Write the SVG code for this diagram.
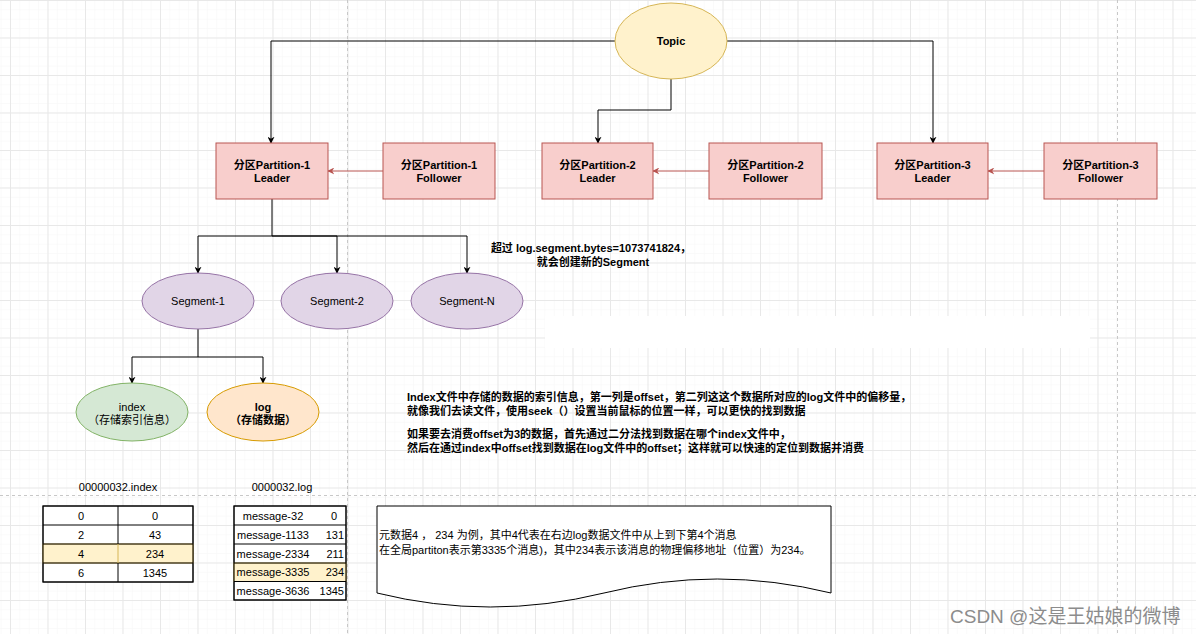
<svg xmlns="http://www.w3.org/2000/svg" width="1196" height="634" viewBox="0 0 1196 634">
<defs>
<pattern id="minor" x="10" y="0" width="9.375" height="9.375" patternUnits="userSpaceOnUse">
<path d="M0,0 H9.375 M0,0 V9.375" stroke="#f6f6f6" stroke-width="1" fill="none"/>
</pattern>
<pattern id="major" x="10" y="0" width="37.5" height="37.5" patternUnits="userSpaceOnUse">
<path d="M0,0.5 H37.5 M0.5,0 V37.5" stroke="#e8e8e8" stroke-width="1" fill="none"/>
</pattern>
<marker id="ab" viewBox="0 0 10 10" refX="9" refY="5" markerWidth="7" markerHeight="7" markerUnits="userSpaceOnUse" orient="auto">
<path d="M0,0 L10,5 L0,10 L3,5 z" fill="#000"/>
</marker>
<marker id="ar" viewBox="0 0 10 10" refX="9" refY="5" markerWidth="7" markerHeight="7" markerUnits="userSpaceOnUse" orient="auto">
<path d="M0,0 L10,5 L0,10 L3,5 z" fill="#b85450"/>
</marker>
</defs>
<style>
text{font-family:"Liberation Sans","Noto Sans CJK SC",sans-serif;font-size:11px;fill:#000}
.b{font-weight:bold}
.c{text-anchor:middle}
.e{text-anchor:end}
.red{fill:#f8cecc;stroke:#b85450;stroke-width:1}
.pur{fill:#e1d5e7;stroke:#9673a6;stroke-width:1}
.conn path{fill:none;stroke:#000;stroke-width:1;marker-end:url(#ab)}
.conn path.r{stroke:#b85450;marker-end:url(#ar)}
.tb{fill:#fff;stroke:#000;stroke-width:1}
.hl{fill:#fff2cc;stroke:#d6b656;stroke-width:1}
.pg{stroke:#c8c8c8;stroke-width:1;stroke-dasharray:3 3;fill:none}
</style>
<rect width="1196" height="634" fill="#fff"/>
<rect width="1196" height="634" fill="url(#minor)"/>
<rect width="1196" height="634" fill="url(#major)"/>
<rect x="545" y="316" width="545" height="32" fill="#fff"/>
<path class="pg" d="M347.5,0 V634 M1117.5,0 V634 M0,495.5 H1196"/>

<g id="connectors" class="conn">
<path d="M615,41 H271 V143"/>
<path d="M727,41 H933 V143"/>
<path d="M671,79 V110 H598 V143"/>
<path class="r" d="M383,171 H328"/>
<path class="r" d="M709,171 H653"/>
<path class="r" d="M1044,171 H988"/>
<path d="M272,199 V236 H198 V273"/>
<path d="M272,236 H337 V273"/>
<path d="M272,236 H467 V273"/>
<path d="M198,329 V357 H132 V383"/>
<path d="M198,357 H263 V383"/>
</g>

<g id="topic">
<ellipse cx="671" cy="41" rx="56" ry="38" fill="#fff2cc" stroke="#d6b656"/>
<text class="b c" x="671" y="45">Topic</text>
</g>
<g id="p1-leader">
<rect class="red" x="216" y="143" width="112" height="56"/>
<text class="b c" x="272" y="169">分区Partition-1</text>
<text class="b c" x="272" y="182">Leader</text>
</g>
<g id="p1-follower">
<rect class="red" x="383" y="143" width="112" height="56"/>
<text class="b c" x="439" y="169">分区Partition-1</text>
<text class="b c" x="439" y="182">Follower</text>
</g>
<g id="p2-leader">
<rect class="red" x="542" y="143" width="111" height="56"/>
<text class="b c" x="597.5" y="169">分区Partition-2</text>
<text class="b c" x="597.5" y="182">Leader</text>
</g>
<g id="p2-follower">
<rect class="red" x="709" y="143" width="113" height="56"/>
<text class="b c" x="765.5" y="169">分区Partition-2</text>
<text class="b c" x="765.5" y="182">Follower</text>
</g>
<g id="p3-leader">
<rect class="red" x="877" y="143" width="111" height="56"/>
<text class="b c" x="932.5" y="169">分区Partition-3</text>
<text class="b c" x="932.5" y="182">Leader</text>
</g>
<g id="p3-follower">
<rect class="red" x="1044" y="143" width="113" height="56"/>
<text class="b c" x="1100.5" y="169">分区Partition-3</text>
<text class="b c" x="1100.5" y="182">Follower</text>
</g>

<g id="segment-note">
<text class="b c" x="591" y="252">超过 log.segment.bytes=1073741824，</text>
<text class="b c" x="593" y="266">就会创建新的Segment</text>
</g>

<g id="segment-1">
<ellipse class="pur" cx="198" cy="301" rx="56" ry="28"/>
<text class="c" x="198" y="305">Segment-1</text>
</g>
<g id="segment-2">
<ellipse class="pur" cx="337" cy="301" rx="56" ry="28"/>
<text class="c" x="337" y="305">Segment-2</text>
</g>
<g id="segment-n">
<ellipse class="pur" cx="467" cy="301" rx="56" ry="28"/>
<text class="c" x="467" y="305">Segment-N</text>
</g>

<g id="index">
<ellipse cx="132" cy="412" rx="56" ry="29" fill="#d5e8d4" stroke="#82b366"/>
<text class="c" x="132" y="411">index</text>
<text class="c" x="132" y="424">（存储索引信息）</text>
</g>
<g id="log">
<ellipse cx="263" cy="412" rx="56" ry="29" fill="#ffe6cc" stroke="#d79b00"/>
<text class="b c" x="263" y="411">log</text>
<text class="b c" x="263" y="424">（存储数据）</text>
</g>

<g id="explain">
<text class="b" x="407" y="401">Index文件中存储的数据的索引信息，第一列是offset，第二列这这个数据所对应的log文件中的偏移量，</text>
<text class="b" x="407" y="415">就像我们去读文件，使用seek（）设置当前鼠标的位置一样，可以更快的找到数据</text>
<text class="b" x="407" y="438">如果要去消费offset为3的数据，首先通过二分法找到数据在哪个index文件中，</text>
<text class="b" x="407" y="452">然后在通过index中offset找到数据在log文件中的offset；这样就可以快速的定位到数据并消费</text>
</g>

<g id="index-table">
<text class="c" x="118" y="491">00000032.index</text>
<rect class="tb" x="43" y="506" width="150" height="76"/>
<rect class="hl" x="43" y="544" width="150" height="19"/>
<path d="M43,525 H193 M43,544 H193 M43,563 H193 M118,506 V544 M118,563 V582" stroke="#000" fill="none"/>
<path d="M118,544 V563" stroke="#d6b656" fill="none"/>
<rect x="43" y="506" width="150" height="76" fill="none" stroke="#000"/>
<text class="c" x="81" y="519.5">0</text><text class="c" x="155" y="519.5">0</text>
<text class="c" x="81" y="538.5">2</text><text class="c" x="155" y="538.5">43</text>
<text class="c" x="81" y="557.5">4</text><text class="c" x="155" y="557.5">234</text>
<text class="c" x="81" y="576.5">6</text><text class="c" x="155" y="576.5">1345</text>
</g>

<g id="log-table">
<text class="c" x="282" y="491">0000032.log</text>
<rect class="tb" x="234" y="506" width="112" height="94"/>
<rect class="hl" x="234" y="563" width="112" height="18.5"/>
<path d="M234,525 H346 M234,544 H346 M234,563 H346 M234,581.5 H346" stroke="#000" fill="none"/>
<rect x="234" y="506" width="112" height="94" fill="none" stroke="#000"/>
<text class="c" x="273" y="519.5">message-32</text><text class="c" x="334" y="519.5">0</text>
<text class="c" x="273" y="538.5">message-1133</text><text class="e" x="344" y="538.5">131</text>
<text class="c" x="273" y="557.5">message-2334</text><text class="e" x="344" y="557.5">211</text>
<text class="c" x="273" y="576">message-3335</text><text class="e" x="344" y="576">234</text>
<text class="c" x="273" y="594.5">message-3636</text><text class="e" x="344" y="594.5">1345</text>
</g>

<g id="document">
<path d="M377,506 H831 V593 Q717,565 604,593 Q490,621 377,593 Z" fill="#fff" stroke="#000" stroke-width="1"/>
<text x="379" y="539">元数据4 ， 234 为例，其中4代表在右边log数据文件中从上到下第4个消息</text>
<text x="379" y="554">在全局partiton表示第3335个消息)，其中234表示该消息的物理偏移地址（位置）为234。</text>
</g>

<text x="950" y="623" style="font-size:19px;fill:#8c8c8c">CSDN @这是王姑娘的微博</text>
</svg>
